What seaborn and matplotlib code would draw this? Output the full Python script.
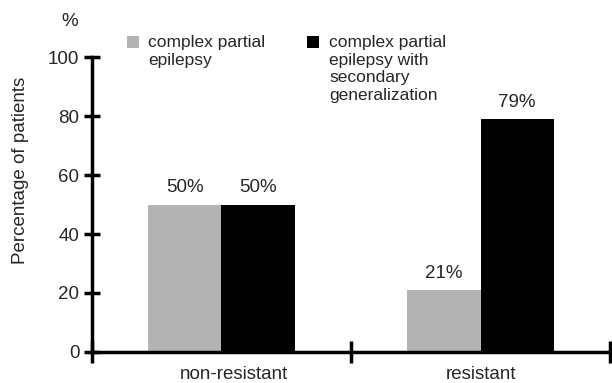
import seaborn as sns
import pandas as pd
import matplotlib.pyplot as plt
from matplotlib.patches import Rectangle

# data
groups = ["non-resistant", "resistant"]
series_names = ["complex partial\nepilepsy",
                "complex partial\nepilepsy with\nsecondary\ngeneralization"]
cp_values = [50, 21]
cpsg_values = [50, 79]
y_ticks = [0, 20, 40, 60, 80, 100]
colors = ["#b3b3b3", "#000000"]

df = pd.DataFrame({
    "group": groups * 2,
    "type": [series_names[0]] * 2 + [series_names[1]] * 2,
    "value": cp_values + cpsg_values,
})

sns.set_style("white")
plt.rcParams["font.family"] = ["Liberation Sans", "DejaVu Sans"]

fig = plt.figure(figsize=(6.12, 3.83), dpi=100)
ax = fig.add_axes([0.150, 0.081, 0.847, 0.770])

sns.barplot(data=df, x="group", y="value", hue="type",
            palette=colors, width=0.565, saturation=1,
            linewidth=0, edgecolor="none", ax=ax, legend=False)

for cont in ax.containers:
    ax.bar_label(cont, fmt="%g%%", padding=6, fontsize=13.5)

ax.set_ylim(0, 100)
ax.set_xlim(-0.5, 1.5)
ax.set_yticks(y_ticks)
ax.set_xticks([-0.5, 0.5, 1.5])
ax.set_xticklabels([])
ax.set_xticks([0.05, 1], minor=True)
ax.set_xticklabels(groups, minor=True)
ax.tick_params(axis="x", which="minor", bottom=True, length=0, labelsize=13.5, pad=10)
ax.tick_params(axis="x", which="major", bottom=True, direction="inout",
               length=16, width=2.5, color="black")
ax.tick_params(axis="y", left=True, direction="inout", length=12, width=2.5,
               color="black", labelsize=13.5, pad=3)

for s in ["top", "right"]:
    ax.spines[s].set_visible(False)
for s in ["left", "bottom"]:
    ax.spines[s].set_linewidth(2.5)
    ax.spines[s].set_color("black")

ax.set_xlabel("")
ax.set_ylabel("Percentage of patients", fontsize=13.5)
ax.yaxis.set_label_coords(-0.122, 0.617)
ax.text(-0.042, 1.119, "%", transform=ax.transAxes, fontsize=13.5,
        ha="center", va="center")

# legend: squares and labels above the plot
leg_x = [127, 307]
leg_text_x = [148, 329]
for lx, tx, name, c in zip(leg_x, leg_text_x, series_names, colors):
    fig.patches.append(Rectangle((lx / 612, (383 - 48) / 383), 12 / 612, 12 / 383,
                                 transform=fig.transFigure, facecolor=c,
                                 edgecolor="none"))
    fig.text(tx / 612, (383 - 35) / 383, name, fontsize=12.5, va="top",
             ha="left", linespacing=1.22)

fig.savefig("out.png", dpi=100)
